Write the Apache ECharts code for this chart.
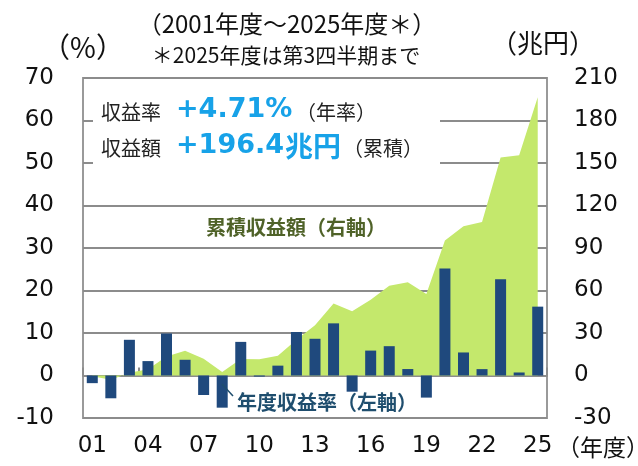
<!DOCTYPE html>
<html>
<head>
<meta charset="utf-8">
<script src="https://cdn.jsdelivr.net/npm/echarts@6/dist/echarts.min.js"></script>
<style>
  html, body { margin: 0; padding: 0; background: #fff; }
  #main { width: 638px; height: 466px; }
</style>
</head>
<body>
<div id="main"></div>
<script>
// 年度 (2001-2025)
var years = ['01', '02', '03', '04', '05', '06', '07', '08', '09', '10', '11', '12', '13',
  '14', '15', '16', '17', '18', '19', '20', '21', '22', '23', '24', '25']
// 年度収益率 (%) 左軸
var annualRate = [-1.80, -5.36, 8.40, 3.39, 9.88, 3.70, -4.59, -7.57, 7.91, -0.25, 2.32, 10.23, 8.64,
  12.27, -3.81, 5.86, 6.90, 1.52, -5.20, 25.15, 5.42, 1.50, 22.67, 0.71, 16.2]
// 累積収益額 (兆円) 右軸
var cumulative = [-0.6, -3.0, 1.9, 4.5, 13.4, 17.4, 11.9, 2.5, 11.7, 11.4, 14.0, 25.3, 35.5,
  50.8, 45.4, 53.4, 63.4, 65.8, 57.5, 95.3, 105.4, 108.4, 153.8, 155.5, 196.4]
// 軸の目盛
var leftTicks = { min: -10, max: 70, interval: 10 }
var rightTicks = { min: -30, max: 210, interval: 30 }

var jp = '"Noto Sans CJK JP", sans-serif'
var num = '"DejaVu Sans", sans-serif'

function txt(text, x, y, font, fill, align, z) {
  return {
    type: 'text', z: z || 60,
    style: {
      text: text, x: x, y: y, font: font, fill: fill || '#111',
      textAlign: align || 'left', textVerticalAlign: 'middle', verticalAlign: 'middle'
    }
  }
}

var myChart = echarts.init(document.getElementById('main'))
myChart.setOption({
  animation: false,
  grid: {
    left: 83, right: 91, top: 78, bottom: 48,
    show: true,
    borderColor: '#9a9a9a',
    borderWidth: 2
  },
  xAxis: [
    {
      type: 'category',
      data: years,
      axisLine: { onZero: true, onZeroAxisIndex: 0, lineStyle: { color: '#8c8c8c', width: 2 } },
      axisTick: { show: true, inside: true, interval: 2, length: 8, lineStyle: { color: '#8c8c8c', width: 2 } },
      axisLabel: { show: false }
    },
    {
      type: 'category',
      data: years,
      position: 'bottom',
      axisLine: { show: false, onZero: false },
      axisTick: { show: false },
      axisLabel: { interval: 2, margin: 17, fontFamily: num, fontSize: 23, color: '#111' }
    }
  ],
  yAxis: [
    {
      type: 'value',
      min: leftTicks.min, max: leftTicks.max, interval: leftTicks.interval,
      axisLine: { show: false },
      axisTick: { show: false },
      splitLine: { lineStyle: { color: '#8c8c8c', width: 2 } },
      axisLabel: { margin: 29, fontFamily: num, fontSize: 23, color: '#111' }
    },
    {
      type: 'value',
      min: rightTicks.min, max: rightTicks.max, interval: rightTicks.interval,
      axisLine: { show: false },
      axisTick: { show: false },
      splitLine: { show: false },
      axisLabel: { margin: 27, fontFamily: num, fontSize: 23, color: '#111' }
    }
  ],
  series: [
    {
      name: '累積収益額',
      type: 'line',
      xAxisIndex: 0,
      yAxisIndex: 1,
      data: cumulative,
      symbol: 'none',
      lineStyle: { width: 0 },
      areaStyle: { color: '#c4e86c', opacity: 1 },
      z: 1
    },
    {
      name: '年度収益率',
      type: 'bar',
      xAxisIndex: 0,
      yAxisIndex: 0,
      data: annualRate,
      barWidth: 11,
      itemStyle: { color: '#1f497d' },
      z: 3
    }
  ],
  graphic: [
    // 収益率ボックス (目盛線を隠す)
    { type: 'rect', shape: { x: 93, y: 92, width: 347, height: 80 }, style: { fill: '#fff' }, z: 50 },
    txt('収益率', 101, 112, '20px ' + jp, '#222'),
    txt('+4.71%', 176, 110, 'bold 27px ' + num, '#17a2e8'),
    txt('（年率）', 296, 112, '20px ' + jp, '#222'),
    txt('収益額', 101, 148, '20px ' + jp, '#222'),
    txt('+196.4', 176, 146, 'bold 27px ' + num, '#17a2e8'),
    txt('兆円', 285, 146, 'bold 28px ' + jp, '#17a2e8'),
    txt('（累積）', 343, 148, '20px ' + jp, '#222'),
    // 系列ラベル
    txt('累積収益額（右軸）', 296, 227, 'bold 20px ' + jp, '#4f6228', 'center'),
    { type: 'line', z: 60, shape: { x1: 222, y1: 384, x2: 233, y2: 396 }, style: { stroke: '#1f4e6e', lineWidth: 1.5 } },
    txt('年度収益率（左軸）', 237, 402, 'bold 20px ' + jp, '#1f4e6e'),
    // 単位・注記
    txt('（%）', 83, 47, '28px ' + jp, '#111', 'center'),
    txt('（兆円）', 543, 43, '26px ' + jp, '#111', 'center'),
    txt('（2001年度～2025年度＊）', 287, 24, '24px ' + jp, '#111', 'center'),
    txt('＊2025年度は第3四半期まで', 286, 55, '21px ' + jp, '#111', 'center'),
    txt('（年度）', 603, 447, '23px ' + jp, '#111', 'center')
  ]
})
</script>
</body>
</html>
